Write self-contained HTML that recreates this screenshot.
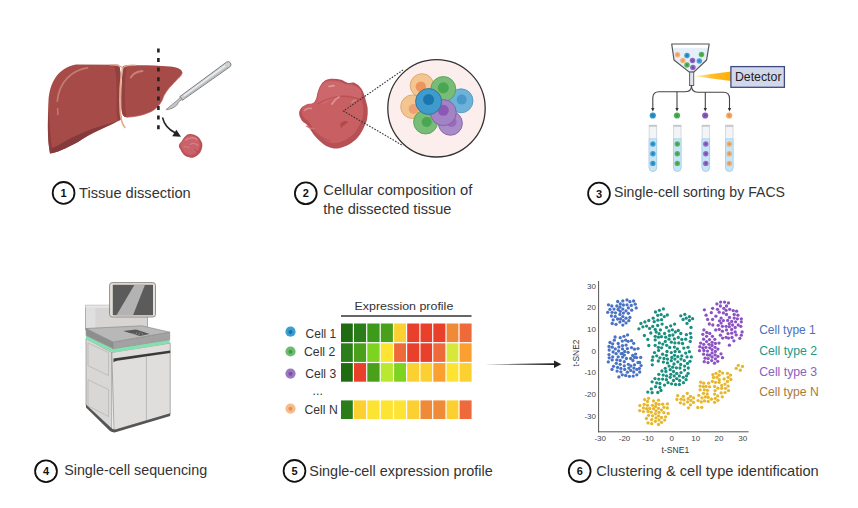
<!DOCTYPE html>
<html><head><meta charset="utf-8">
<style>
html,body{margin:0;padding:0;background:#fff;width:858px;height:508px;overflow:hidden}
svg{display:block;position:absolute;left:0;top:0}
text{font-family:"Liberation Sans",sans-serif}
</style></head><body>
<svg width="858" height="508" viewBox="0 0 858 508">
<defs>
<linearGradient id="beam" x1="0" x2="1" y1="0" y2="0">
<stop offset="0" stop-color="#ffd36a" stop-opacity="0.35"/><stop offset="0.45" stop-color="#ffbf30"/><stop offset="1" stop-color="#ffae00"/>
</linearGradient>
<clipPath id="funnelclip"><path d="M671.7 44 L709.2 44 L706.6 60 L693.8 72.1 L689.3 72.1 L674 60 Z"/></clipPath>
<radialGradient id="tub" cx="0.5" cy="0.5" r="0.5"><stop offset="0" stop-color="#000" stop-opacity="0.15"/><stop offset="1" stop-color="#000" stop-opacity="0"/></radialGradient>
</defs>

<!-- ===== Section 1: liver ===== -->
<g id="liver">
<path d="M50 153.5 C47.5 140 47.5 120 48.5 100 C50 82 58 68 76 64.5 L118 64.8 C121 66 121 80 120.5 95 C120 108 120.5 115 122 119 C110 126 92 132 78 142 C66 148 57 153 50 153.5 Z" fill="#a64b48"/>
<path d="M50 153.5 C57 153 66 148 78 142 C92 132 106 127 118 121 C106 125 92 128 80 134 C66 140 56 147 50 149 Z" fill="#84393a"/>
<path d="M50 153.5 C47.5 140 47.5 125 48.5 112 C50 125 50.5 140 52.5 150 Z" fill="#8e3f3d"/>
<path d="M114 65 C117 75 117 95 116.5 105 C116.5 112 117 117 118 121 L122 119 C120.5 115 120 108 120.5 95 C121 80 121 66 118 64.8 Z" fill="#924140"/>
<path d="M123 66 C130 65 150 64.8 170 66.6 C177 67.5 182 69 182.3 72.5 C182 76 176 80 172.7 84.3 C168 89 164 94 162.2 100.2 C160 105 155 110 150.3 112 C144 115 135 117 126.6 117.3 C123 117 121.8 114 121.5 108 C121.3 95 121.5 80 123 66 Z" fill="#a64b48"/>
<path d="M123 66 C121.5 80 121.3 95 121.5 108 C121.8 114 123 117 126.6 117.3 C125.5 113 125 105 125 95 C125 82 125.5 72 127 65.6 Z" fill="#934241"/>
<path d="M182.3 72.5 C182 76 176 80 172.7 84.3 C168 89 164 94 162.2 100.2 C160 105 155 110 150.3 112 C144 115 135 117 126.6 117.3" fill="none" stroke="#c06a66" stroke-width="0.7"/>
<path d="M122.7 67.5 C120.2 80 119.6 100 120.3 112 C120.8 120 122.8 125 124.8 127.4" fill="none" stroke="#e6ad8e" stroke-width="1.7" stroke-linecap="round"/>
<path d="M110 65 C116 64.5 119 65 122.7 67.8 C126 65 130 64.8 136 65.3" fill="none" stroke="#e0a58a" stroke-width="1.1"/>
<path d="M87.5 67.8 C72 70 59 82 57.3 101" fill="none" stroke="#c47a72" stroke-width="1.8" stroke-linecap="round"/>
<path d="M57.6 108.8 L57.9 114.5" fill="none" stroke="#c47a72" stroke-width="1.5" stroke-linecap="round"/>
<path d="M130.8 77.5 C133 73 137 71.5 142.5 71" fill="none" stroke="#c98278" stroke-width="1.8" stroke-linecap="round"/>
</g>
<line x1="158.4" y1="48.4" x2="158.4" y2="129.3" stroke="#222" stroke-width="2.6" stroke-dasharray="4 5.6"/>
<!-- scalpel -->
<g transform="translate(181,98.5) rotate(-35.8)">
<path d="M0 -2.2 L58 -2.9 A2.9 2.9 0 0 1 58 2.9 L0 2.2 Z" fill="#cfd2d4" stroke="#6e7174" stroke-width="0.8"/>
<path d="M2 1.2 L57 1.7" stroke="#b4b7ba" stroke-width="1"/>
<path d="M4 -0.4 L55 -0.7" stroke="#eef0f1" stroke-width="1.3"/>
<path d="M0.5 -1.2 L-4 -0.8 L-18.8 0.3 Q-13 4 -6.5 2.8 L-4 1.3 L0.5 1.3 Z" fill="#c4c6c8" stroke="#74777a" stroke-width="0.65"/>
</g>
<path d="M162.5 117.5 Q165 128 175.5 133" fill="none" stroke="#222" stroke-width="1.5"/>
<path d="M172.2 136.3 L176.4 129.8 L181 136.8 Z" fill="#222"/>
<!-- small tissue -->
<path d="M189.3 134.1 C191.1 133.8 191.5 134.1 193.3 134.6 C195.0 135.0 195.3 135.3 196.7 136.1 C198.1 136.9 198.1 136.9 199.2 138.0 C200.2 139.2 200.4 139.5 201.1 141.0 C201.9 142.5 202.1 142.7 202.3 144.4 C202.5 146.1 202.3 146.6 201.9 148.3 C201.5 150.1 201.5 150.3 200.6 151.8 C199.8 153.3 199.6 153.5 198.2 154.7 C196.8 156.0 196.3 156.3 194.7 157.0 C193.1 157.7 192.9 157.8 191.3 157.8 C189.7 157.8 189.5 157.6 187.9 157.0 C186.3 156.4 185.8 156.3 184.4 155.2 C183.0 154.1 182.9 153.7 182.0 152.3 C181.0 150.9 181.0 150.7 180.3 149.3 C179.6 148.0 179.2 147.6 179.0 146.4 C178.8 145.1 178.9 145.1 179.5 143.9 C180.1 142.8 180.5 142.7 181.5 141.5 C182.4 140.2 182.4 139.8 183.4 138.5 C184.5 137.2 184.5 136.8 185.9 135.8 C187.3 134.7 187.6 134.4 189.3 134.1 Z" fill="#bd5256"/>
<path d="M189.1 135.4 C190.5 135.2 190.9 135.5 192.4 135.8 C193.8 136.2 194.1 136.4 195.2 137.0 C196.3 137.7 196.3 137.7 197.2 138.7 C198.0 139.6 198.2 139.9 198.8 141.1 C199.4 142.3 199.6 142.5 199.8 143.9 C199.9 145.3 199.8 145.7 199.5 147.1 C199.1 148.5 199.1 148.7 198.4 149.9 C197.7 151.2 197.5 151.4 196.4 152.4 C195.3 153.4 194.9 153.6 193.6 154.2 C192.2 154.8 192.1 154.9 190.7 154.9 C189.4 154.9 189.2 154.7 187.9 154.2 C186.6 153.7 186.2 153.7 185.1 152.8 C184.0 151.9 183.9 151.5 183.1 150.4 C182.3 149.2 182.3 149.1 181.7 147.9 C181.1 146.8 180.8 146.5 180.7 145.5 C180.5 144.5 180.6 144.4 181.1 143.5 C181.5 142.6 181.9 142.5 182.7 141.5 C183.4 140.4 183.4 140.2 184.3 139.1 C185.1 138.0 185.2 137.7 186.3 136.8 C187.4 136.0 187.7 135.7 189.1 135.4 Z" fill="#c9626a"/>
<path d="M186 140 C189 137.5 194 137 197 139.5" fill="none" stroke="#da8890" stroke-width="1.5" stroke-linecap="round"/>
<path d="M190 144.5 C193 142.5 196 143.5 198 145.5" fill="none" stroke="#d57f87" stroke-width="1.2" stroke-linecap="round"/>
<path d="M184 147 C186 146 188 147 189 148" fill="none" stroke="#d57f87" stroke-width="1.1" stroke-linecap="round"/>
<path d="M194 149 C196 151 197 152 199 151" fill="none" stroke="#b04a50" stroke-width="1"/>
<!-- label 1 -->
<circle cx="63.6" cy="192.9" r="10.9" fill="none" stroke="#111" stroke-width="1.8"/>
<text x="63.6" y="196.9" font-size="11" font-weight="bold" text-anchor="middle" fill="#111">1</text>
<text x="79" y="197.6" font-size="15" fill="#333" textLength="111.7" lengthAdjust="spacingAndGlyphs">Tissue dissection</text>

<!-- ===== Section 2 ===== -->
<path d="M332.9 78.8 C335.6 78.8 338.4 79.1 341.2 79.8 C344.0 80.6 345.5 82.3 348.0 82.9 C350.5 83.4 352.5 82.0 354.8 82.9 C357.2 83.8 359.2 85.9 360.9 87.9 C362.6 89.9 363.0 91.6 363.9 93.9 C364.9 96.3 365.2 98.0 365.9 100.8 C366.6 103.5 367.5 105.8 367.7 109.1 C367.9 112.4 367.7 115.8 367.1 118.9 C366.5 122.1 365.4 123.8 364.4 126.2 C363.3 128.7 362.8 130.0 361.4 132.3 C360.0 134.6 358.7 136.7 356.8 138.6 C355.0 140.6 353.8 141.4 351.4 142.9 C349.0 144.4 346.6 145.8 343.8 146.8 C341.0 147.9 338.8 148.6 335.9 148.6 C333.0 148.6 330.6 147.9 328.0 146.8 C325.5 145.8 324.3 144.7 322.0 142.9 C319.7 141.0 317.6 139.2 315.5 136.8 C313.3 134.4 312.0 132.1 310.5 129.8 C308.9 127.6 308.4 126.4 306.8 124.7 C305.2 123.0 303.2 122.4 301.8 120.5 C300.4 118.5 299.4 116.3 299.2 114.1 C299.0 111.9 299.6 110.2 300.8 108.6 C301.9 107.0 303.2 106.1 305.3 105.3 C307.4 104.5 310.0 105.2 312.0 104.1 C313.9 103.0 314.9 101.5 315.9 99.2 C317.0 97.0 316.8 94.7 317.7 92.0 C318.7 89.2 319.4 86.6 321.1 84.4 C322.7 82.2 324.3 80.9 326.5 79.8 C328.7 78.8 330.2 78.8 332.9 78.8 Z" fill="#b65054"/>
<path d="M331.9 80.3 C334.3 80.3 336.9 80.6 339.4 81.3 C341.9 81.9 343.3 83.5 345.5 84.0 C347.8 84.5 349.5 83.2 351.7 84.0 C353.8 84.8 355.6 86.7 357.1 88.5 C358.6 90.3 359.0 91.8 359.8 93.9 C360.7 96.1 361.0 97.6 361.6 100.1 C362.2 102.6 363.1 104.6 363.3 107.6 C363.5 110.6 363.3 113.6 362.7 116.4 C362.2 119.3 361.2 120.8 360.3 123.0 C359.3 125.2 358.8 126.4 357.5 128.4 C356.3 130.5 355.1 132.4 353.4 134.2 C351.8 135.9 350.7 136.6 348.5 138.0 C346.4 139.3 344.3 140.6 341.7 141.5 C339.2 142.5 337.2 143.2 334.6 143.2 C332.0 143.2 329.8 142.5 327.5 141.5 C325.2 140.6 324.1 139.6 322.1 138.0 C320.0 136.3 318.1 134.7 316.2 132.5 C314.3 130.4 313.1 128.3 311.7 126.3 C310.3 124.3 309.9 123.2 308.4 121.6 C307.0 120.1 305.2 119.6 303.9 117.8 C302.7 116.1 301.8 114.0 301.6 112.1 C301.4 110.1 302.0 108.6 303.0 107.2 C304.0 105.7 305.2 104.9 307.1 104.2 C308.9 103.4 311.3 104.1 313.1 103.1 C314.8 102.1 315.7 100.7 316.6 98.7 C317.6 96.7 317.4 94.6 318.3 92.2 C319.1 89.7 319.8 87.4 321.3 85.4 C322.7 83.4 324.2 82.2 326.2 81.3 C328.1 80.3 329.5 80.3 331.9 80.3 Z" fill="#c75f63"/>
<path d="M322.3 85.6 C326.1 80.6 326.4 81.7 332.9 81.4 C339.3 81.0 340.1 82.9 346.5 84.4 C353.0 85.9 353.1 84.4 357.1 87.1 C361.2 89.9 361.7 91.8 361.7 94.7 C361.7 97.6 361.2 97.9 357.1 98.0 C353.1 98.1 352.6 95.1 346.5 95.0 C340.5 94.9 340.5 95.4 334.4 97.7 C328.3 100.1 328.0 103.2 323.8 103.8 C319.5 104.4 318.9 104.8 318.5 100.0 C318.1 95.2 318.4 90.6 322.3 85.6 Z" fill="#cc686c"/>
<path d="M318 104 C324 100 331 97 339 96.5 C348 96 356 97.5 361 100" fill="none" stroke="#ba5156" stroke-width="1.2"/>
<path d="M340.5 124 C342 121 346 120.5 348 122 C346 124 343 125 341 128 Z" fill="#b04a4e"/>
<path d="M314 131 C320 137 326 140 331 141" fill="none" stroke="#bb5458" stroke-width="1.1"/>
<path d="M329 86.5 L334 85.6" stroke="#e49a9c" stroke-width="1.6" stroke-linecap="round"/>
<path d="M332 104 C334 100 337 98 339 97" stroke="#df9294" stroke-width="1.8" stroke-linecap="round" fill="none"/>
<path d="M352 102.5 C353 101 354.5 100 355.5 100" stroke="#d98486" stroke-width="1.6" stroke-linecap="round" fill="none"/>
<path d="M304.5 110.5 C306.5 108.5 309 108 311.5 108.5" stroke="#de8e90" stroke-width="1.6" stroke-linecap="round" fill="none"/>
<path d="M306 126 C309 128 312 129 315 128.5" stroke="#d27478" stroke-width="1.1" fill="none"/>
<path d="M340.5 124 C342 121 346 120.5 348 122 C346 124 343 125 341 128 Z" fill="#b04a4e"/>
<path d="M403 70 L343.5 111 L403 145.7" fill="none" stroke="#333" stroke-width="1.1" stroke-dasharray="1.6 1.4"/>
<circle cx="436.5" cy="108.3" r="48.7" fill="#fdeeee" stroke="#333" stroke-width="1.3"/>
<g stroke-width="0.8">
<circle cx="422" cy="85.5" r="11.8" fill="#f3c591" stroke="#d99c60"/><circle cx="420.8" cy="86.6" r="5.2" fill="#ec955c"/>
<circle cx="412.5" cy="106.7" r="11.8" fill="#f3c591" stroke="#d99c60"/><circle cx="413.7" cy="109" r="5" fill="#efa070"/>
<circle cx="461" cy="100.8" r="12" fill="#6db3d9" stroke="#4d93bb"/><circle cx="461.7" cy="99.6" r="5" fill="#4a98c8"/>
<circle cx="443.3" cy="89" r="12.5" fill="#78bc78" stroke="#4f9a50"/><circle cx="443.3" cy="87.8" r="5.5" fill="#4aa650"/>
<circle cx="425.6" cy="122" r="12" fill="#78bc78" stroke="#4f9a50"/><circle cx="426.7" cy="122" r="5" fill="#4aa650"/>
<circle cx="450.4" cy="123.3" r="12" fill="#a98bc8" stroke="#7b5aa3"/><circle cx="451.6" cy="122" r="5" fill="#9c68bc"/>
<circle cx="443.3" cy="112.6" r="13" fill="#a283c4" stroke="#7b5aa3"/><circle cx="443.3" cy="110.3" r="5.5" fill="#8d58b5"/>
<circle cx="428.6" cy="101.5" r="13" fill="#3f9bcb" stroke="#2a6a94"/><circle cx="428.6" cy="99.6" r="5.5" fill="#1b76ad"/>
</g>
<circle cx="305.8" cy="193.3" r="10.9" fill="none" stroke="#111" stroke-width="1.8"/>
<text x="305.8" y="197.3" font-size="11" font-weight="bold" text-anchor="middle" fill="#111">2</text>
<text x="323.3" y="195" font-size="15" fill="#333" textLength="149" lengthAdjust="spacingAndGlyphs">Cellular composition of</text>
<text x="323.3" y="213.8" font-size="15" fill="#333" textLength="128.2" lengthAdjust="spacingAndGlyphs">the dissected tissue</text>

<!-- ===== Section 3: FACS ===== -->
<g clip-path="url(#funnelclip)"><rect x="670" y="47.8" width="45" height="30" fill="#e6eef9"/></g>
<path d="M671.7 44 L709.2 44 L706.6 60 L693.8 72.1 L689.3 72.1 L674 60 Z" fill="none" stroke="#555" stroke-width="1.2" stroke-linejoin="round"/>
<g>
<circle cx="677.5" cy="54.8" r="2.75" fill="#f5b47c"/><circle cx="677.5" cy="54.8" r="1.2" fill="#ee9656"/><circle cx="687" cy="55.5" r="2.75" fill="#3a9dd2"/><circle cx="687" cy="55.5" r="1.2" fill="#1f7fb8"/><circle cx="701.5" cy="54.5" r="2.75" fill="#58b35c"/><circle cx="701.5" cy="54.5" r="1.2" fill="#3d9b44"/><circle cx="682.9" cy="60.6" r="2.75" fill="#f5b47c"/><circle cx="682.9" cy="60.6" r="1.2" fill="#ee9656"/><circle cx="692.5" cy="60.6" r="2.75" fill="#9165c2"/><circle cx="692.5" cy="60.6" r="1.2" fill="#7646ab"/><circle cx="699.3" cy="60.9" r="2.75" fill="#46a5d6"/><circle cx="699.3" cy="60.9" r="1.2" fill="#2a8cc4"/><circle cx="687" cy="65" r="2.75" fill="#58b35c"/><circle cx="687" cy="65" r="1.2" fill="#3d9b44"/><circle cx="692.9" cy="67.4" r="2.75" fill="#9165c2"/><circle cx="692.9" cy="67.4" r="1.2" fill="#7646ab"/></g>
<rect x="689.6" y="72.1" width="4.1" height="13.4" fill="#dfe4ea" stroke="#5f6368" stroke-width="1"/>
<path d="M694 76.2 L731 71.6 L731 80.9 Z" fill="url(#beam)"/>
<rect x="730.9" y="66.6" width="53.5" height="20.7" fill="#d1d8ec" stroke="#3e4b7b" stroke-width="1.3"/>
<text x="734.9" y="81.1" font-size="12.2" fill="#222" textLength="46.6" lengthAdjust="spacingAndGlyphs">Detector</text>
<g fill="none" stroke="#444" stroke-width="1.1">
<path d="M691.5 85.5 Q691.5 91.7 685.5 91.7 L659 91.7 Q652.8 91.7 652.8 98 L652.8 108.5"/>
<path d="M691.5 85.5 Q691.5 92.2 697.5 92.2 L723.5 92.2 Q729.5 92.2 729.5 98.5 L729.5 108.5"/>
<path d="M677 91.7 L677 108.5"/><path d="M705.3 92.2 L705.3 108.5"/>
</g>
<g fill="#333">
<path d="M651.1 108 L654.5 108 L652.8 111.5 Z"/><path d="M675.3 108 L678.7 108 L677 111.5 Z"/>
<path d="M703.6 108 L707 108 L705.3 111.5 Z"/><path d="M727.8 108 L731.2 108 L729.5 111.5 Z"/>
</g>
<circle cx="652.8" cy="115.5" r="3.1" fill="#2f95cf"/><circle cx="652.8" cy="115.5" r="1.3" fill="#1f7fb8"/><circle cx="677" cy="115.5" r="3.1" fill="#4caf50"/><circle cx="677" cy="115.5" r="1.3" fill="#3b9a40"/>
<circle cx="705.2" cy="115.5" r="3.1" fill="#8b5cc0"/><circle cx="705.2" cy="115.5" r="1.3" fill="#7446aa"/><circle cx="729.2" cy="115.5" r="3.1" fill="#f5a862"/><circle cx="729.2" cy="115.5" r="1.3" fill="#e88a44"/>
<g id="tubes">
<path d="M649.15 125.5 L656.65 125.5 L656.65 167.7 A3.75 3.75 0 0 1 649.15 167.7 Z" fill="#f2f4f5" stroke="#cdd1d5" stroke-width="0.8"/><path d="M649.15 138.8 L656.65 138.8 L656.65 167.7 A3.75 3.75 0 0 1 649.15 167.7 Z" fill="#c8e5f6" stroke="#a3d0ea" stroke-width="0.8"/><rect x="648.95" y="124.8" width="7.90" height="2" fill="#c4c8cc"/><circle cx="652.9" cy="144" r="2.7" fill="#2f95cf" fill-opacity="0.9"/><circle cx="652.9" cy="144" r="1.1" fill="#1f7fb8"/><circle cx="652.9" cy="153.7" r="2.7" fill="#2f95cf" fill-opacity="0.9"/><circle cx="652.9" cy="153.7" r="1.1" fill="#1f7fb8"/><circle cx="652.9" cy="163.4" r="2.7" fill="#2f95cf" fill-opacity="0.9"/><circle cx="652.9" cy="163.4" r="1.1" fill="#1f7fb8"/><path d="M673.55 125.5 L681.05 125.5 L681.05 167.7 A3.75 3.75 0 0 1 673.55 167.7 Z" fill="#f2f4f5" stroke="#cdd1d5" stroke-width="0.8"/><path d="M673.55 138.8 L681.05 138.8 L681.05 167.7 A3.75 3.75 0 0 1 673.55 167.7 Z" fill="#c8e5f6" stroke="#a3d0ea" stroke-width="0.8"/><rect x="673.35" y="124.8" width="7.90" height="2" fill="#c4c8cc"/><circle cx="677.3" cy="144" r="2.7" fill="#4caf50" fill-opacity="0.9"/><circle cx="677.3" cy="144" r="1.1" fill="#3b9a40"/><circle cx="677.3" cy="153.7" r="2.7" fill="#4caf50" fill-opacity="0.9"/><circle cx="677.3" cy="153.7" r="1.1" fill="#3b9a40"/><circle cx="677.3" cy="163.4" r="2.7" fill="#4caf50" fill-opacity="0.9"/><circle cx="677.3" cy="163.4" r="1.1" fill="#3b9a40"/><path d="M702.05 125.5 L709.55 125.5 L709.55 167.7 A3.75 3.75 0 0 1 702.05 167.7 Z" fill="#f2f4f5" stroke="#cdd1d5" stroke-width="0.8"/><path d="M702.05 138.8 L709.55 138.8 L709.55 167.7 A3.75 3.75 0 0 1 702.05 167.7 Z" fill="#c8e5f6" stroke="#a3d0ea" stroke-width="0.8"/><rect x="701.85" y="124.8" width="7.90" height="2" fill="#c4c8cc"/><circle cx="705.8" cy="144" r="2.7" fill="#8b5cc0" fill-opacity="0.9"/><circle cx="705.8" cy="144" r="1.1" fill="#7446aa"/><circle cx="705.8" cy="153.7" r="2.7" fill="#8b5cc0" fill-opacity="0.9"/><circle cx="705.8" cy="153.7" r="1.1" fill="#7446aa"/><circle cx="705.8" cy="163.4" r="2.7" fill="#8b5cc0" fill-opacity="0.9"/><circle cx="705.8" cy="163.4" r="1.1" fill="#7446aa"/><path d="M725.55 125.5 L733.05 125.5 L733.05 167.7 A3.75 3.75 0 0 1 725.55 167.7 Z" fill="#f2f4f5" stroke="#cdd1d5" stroke-width="0.8"/><path d="M725.55 138.8 L733.05 138.8 L733.05 167.7 A3.75 3.75 0 0 1 725.55 167.7 Z" fill="#c8e5f6" stroke="#a3d0ea" stroke-width="0.8"/><rect x="725.35" y="124.8" width="7.90" height="2" fill="#c4c8cc"/><circle cx="729.3" cy="144" r="2.7" fill="#f5a862" fill-opacity="0.9"/><circle cx="729.3" cy="144" r="1.1" fill="#e88a44"/><circle cx="729.3" cy="153.7" r="2.7" fill="#f5a862" fill-opacity="0.9"/><circle cx="729.3" cy="153.7" r="1.1" fill="#e88a44"/><circle cx="729.3" cy="163.4" r="2.7" fill="#f5a862" fill-opacity="0.9"/><circle cx="729.3" cy="163.4" r="1.1" fill="#e88a44"/>
</g>
<circle cx="599" cy="193.5" r="10.9" fill="none" stroke="#111" stroke-width="1.8"/>
<text x="599" y="197.5" font-size="11" font-weight="bold" text-anchor="middle" fill="#111">3</text>
<text x="614" y="197.4" font-size="15" fill="#333" textLength="171" lengthAdjust="spacingAndGlyphs">Single-cell sorting by FACS</text>

<!-- ===== Section 4: sequencer ===== -->
<g stroke="#8c8c8c" stroke-width="0.7" stroke-linejoin="round">
<path d="M85.5 305.3 L109.6 305.3 L109.6 314 L147.5 314 L147.5 330 L85.5 330 Z" fill="#d6d5d4"/>
<path d="M85.5 305.3 L109.6 305.3 L109.6 307.8 L85.5 307.8 Z" fill="#e6e6e6" stroke="none"/>
<rect x="85.9" y="307.8" width="9.5" height="21" fill="#dfdfdf" stroke="none"/>
<rect x="109.6" y="282.6" width="45.9" height="34.4" rx="2.6" fill="#e3dfd9" stroke="#8a857f" stroke-width="0.9"/>
<rect x="112.8" y="284.8" width="40.2" height="30.4" fill="#5b5b5b" stroke="none"/>
<path d="M116.5 315.2 L133 315.2 L145 284.8 L134.5 284.8 Z" fill="#b3b3b3" stroke="none"/>
<!-- body -->
<path d="M86 338.5 L111.8 352.4 L111.8 429 L86 405.5 Z" fill="#d9d7d5"/>
<path d="M111.8 352.4 L170.2 343.1 L170.2 414 L114 430.2 Z" fill="#e0dedc"/>
<path d="M113.5 358.6 L170.2 350.5 L170.2 352.9 Q141 357 117 360.8 Q114 361.2 113.5 362.5 Z" fill="#3a3a3a" stroke="none"/>
<path d="M146.4 356 L146.4 421" fill="none" stroke="#a8a8a8"/>
<path d="M88 343 L108.5 352.7 L108.5 375.5 L88 365.7 Z" fill="none" stroke="#b5b3b1"/>
<path d="M88 379.8 L108.5 389.5 L108.5 416.6 L88 405.8 Z" fill="none" stroke="#b5b3b1"/>
<path d="M86 404.6 L111 427.8 Q113 429.8 115.5 429.4 L170.2 413.2 L170.2 415.9 L115.5 432.3 Q111.5 432.8 109.4 430.6 L86 407.4 Z" fill="#555" stroke="none"/>
<!-- green band -->
<path d="M86 335.5 L113.2 348.6 L169.7 339.6 L169.7 343.2 L113.2 352.4 L86 339.2 Z" fill="#86dfb0" stroke="none"/>
<!-- slab -->
<path d="M86.1 328.5 L113.2 342 L113.2 348.6 L86.1 335.5 Z" fill="#8e8e8e"/>
<path d="M113.2 342 L169.7 332.2 L169.7 339.6 L113.2 348.6 Z" fill="#a2a2a2"/>
<path d="M86.1 328.5 L142 325.8 L169.7 332.2 L113.2 342 Z" fill="#b8b8b8"/>
<path d="M123.2 331.1 L136 329.4 L149.7 334.1 L139.7 335.9 Z" fill="#575757" stroke="none"/>
<g fill="#9a9a9a" stroke="none"><circle cx="133" cy="333.6" r="0.6"/><circle cx="136.5" cy="333.2" r="0.6"/><circle cx="140" cy="332.8" r="0.6"/><circle cx="135.5" cy="334.6" r="0.6"/><circle cx="139" cy="334.3" r="0.6"/><circle cx="142.5" cy="333.9" r="0.6"/></g>
</g>
<circle cx="46" cy="471.2" r="10.9" fill="none" stroke="#111" stroke-width="1.8"/>
<text x="46" y="475.2" font-size="11" font-weight="bold" text-anchor="middle" fill="#111">4</text>
<text x="64.2" y="475.2" font-size="15" fill="#333" textLength="143" lengthAdjust="spacingAndGlyphs">Single-cell sequencing</text>

<!-- ===== Section 5: heatmap ===== -->
<text x="354.5" y="309.6" font-size="11.7" fill="#333" textLength="98.8" lengthAdjust="spacingAndGlyphs">Expression profile</text>
<line x1="341" y1="316" x2="471.5" y2="316" stroke="#333" stroke-width="1.4"/>
<rect x="341.0" y="323.5" width="11.8" height="18.6" fill="#1e6b12"/><rect x="354.0" y="323.5" width="12.1" height="18.6" fill="#2a7d18"/><rect x="367.3" y="323.5" width="12.3" height="18.6" fill="#3d9a1a"/><rect x="380.8" y="323.5" width="12.1" height="18.6" fill="#4aa01a"/><rect x="394.1" y="323.5" width="11.9" height="18.6" fill="#fcd030"/><rect x="407.2" y="323.5" width="12.1" height="18.6" fill="#e8402a"/><rect x="420.5" y="323.5" width="11.6" height="18.6" fill="#e8402a"/><rect x="433.3" y="323.5" width="12.1" height="18.6" fill="#e8402a"/><rect x="446.6" y="323.5" width="11.8" height="18.6" fill="#ee8a38"/><rect x="459.6" y="323.5" width="12.0" height="18.6" fill="#ee6a3a"/><rect x="341.0" y="343.3" width="11.8" height="18.6" fill="#2a7d18"/><rect x="354.0" y="343.3" width="12.1" height="18.6" fill="#4aa01a"/><rect x="367.3" y="343.3" width="12.3" height="18.6" fill="#7ed320"/><rect x="380.8" y="343.3" width="12.1" height="18.6" fill="#fde432"/><rect x="394.1" y="343.3" width="11.9" height="18.6" fill="#ee6a3a"/><rect x="407.2" y="343.3" width="12.1" height="18.6" fill="#e8402a"/><rect x="420.5" y="343.3" width="11.6" height="18.6" fill="#e8402a"/><rect x="433.3" y="343.3" width="12.1" height="18.6" fill="#ee6a3a"/><rect x="446.6" y="343.3" width="11.8" height="18.6" fill="#d8e83a"/><rect x="459.6" y="343.3" width="12.0" height="18.6" fill="#fba030"/><rect x="341.0" y="363.1" width="11.8" height="18.6" fill="#1e6b12"/><rect x="354.0" y="363.1" width="12.1" height="18.6" fill="#e8402a"/><rect x="367.3" y="363.1" width="12.3" height="18.6" fill="#4aa01a"/><rect x="380.8" y="363.1" width="12.1" height="18.6" fill="#b8e830"/><rect x="394.1" y="363.1" width="11.9" height="18.6" fill="#7ed320"/><rect x="407.2" y="363.1" width="12.1" height="18.6" fill="#fcd030"/><rect x="420.5" y="363.1" width="11.6" height="18.6" fill="#fcd030"/><rect x="433.3" y="363.1" width="12.1" height="18.6" fill="#fba030"/><rect x="446.6" y="363.1" width="11.8" height="18.6" fill="#fde432"/><rect x="459.6" y="363.1" width="12.0" height="18.6" fill="#fcd030"/><rect x="341.0" y="400.4" width="11.8" height="18.6" fill="#2a7d18"/><rect x="354.0" y="400.4" width="12.1" height="18.6" fill="#fcd030"/><rect x="367.3" y="400.4" width="12.3" height="18.6" fill="#fde432"/><rect x="380.8" y="400.4" width="12.1" height="18.6" fill="#fde432"/><rect x="394.1" y="400.4" width="11.9" height="18.6" fill="#fde432"/><rect x="407.2" y="400.4" width="12.1" height="18.6" fill="#fcd030"/><rect x="420.5" y="400.4" width="11.6" height="18.6" fill="#ee8a38"/><rect x="433.3" y="400.4" width="12.1" height="18.6" fill="#ee8a38"/><rect x="446.6" y="400.4" width="11.8" height="18.6" fill="#fcd030"/><rect x="459.6" y="400.4" width="12.0" height="18.6" fill="#ee6a3a"/>
<circle cx="290.5" cy="331.7" r="5.1" fill="#3a9fd0"/><circle cx="290.5" cy="331.9" r="2" fill="#1d6fa8"/>
<circle cx="290.5" cy="351.5" r="5.1" fill="#6dbb6d"/><circle cx="290.5" cy="351.7" r="2" fill="#3f9a48"/>
<circle cx="290.5" cy="373.6" r="5.1" fill="#9b78c0"/><circle cx="290.5" cy="373.8" r="2" fill="#7d4bb0"/>
<circle cx="290.5" cy="408.6" r="5.1" fill="#f3bd8e"/><circle cx="290.5" cy="408.8" r="2" fill="#ec8c52"/>
<g font-size="12.3" fill="#333">
<text x="305.6" y="338.2" textLength="30.7" lengthAdjust="spacingAndGlyphs">Cell 1</text>
<text x="304" y="356.1" textLength="31.3" lengthAdjust="spacingAndGlyphs">Cell 2</text>
<text x="305.2" y="377.8" textLength="31" lengthAdjust="spacingAndGlyphs">Cell 3</text>
<text x="312.6" y="395">...</text>
<text x="304.5" y="414.4" textLength="33.2" lengthAdjust="spacingAndGlyphs">Cell N</text>
</g>
<circle cx="294.5" cy="470.9" r="10.9" fill="none" stroke="#111" stroke-width="1.8"/>
<text x="294.5" y="474.9" font-size="11" font-weight="bold" text-anchor="middle" fill="#111">5</text>
<text x="309.3" y="476" font-size="15" fill="#333" textLength="183.4" lengthAdjust="spacingAndGlyphs">Single-cell expression profile</text>

<!-- arrow 5->6 -->
<path d="M484.7 364.3 L554.5 363.3 L554.5 365.1 Z" fill="#222"/>
<path d="M554 360.5 L561.3 364.2 L554 367.9 Z" fill="#222"/>

<!-- ===== Section 6: t-SNE ===== -->
<g stroke="#555" stroke-width="1"><line x1="598.6" y1="281" x2="598.6" y2="432.3"/><line x1="598.1" y1="431.8" x2="748.6" y2="431.8"/></g>
<g font-size="8" fill="#444" text-anchor="end">
<text x="596" y="288.7">30</text><text x="596" y="310.4">20</text><text x="596" y="332">10</text><text x="596" y="353.7">0</text>
<text x="596" y="375.4">-10</text><text x="596" y="397.1">-20</text><text x="596" y="418.9">-30</text>
</g>
<g font-size="8" fill="#444" text-anchor="middle">
<text x="600.2" y="440.9">-30</text><text x="624.5" y="440.9">-20</text><text x="648" y="440.9">-10</text><text x="671.8" y="440.9">0</text>
<text x="695.7" y="440.9">10</text><text x="719" y="440.9">20</text><text x="742.7" y="440.9">30</text>
</g>
<text x="661.6" y="453.4" font-size="9.3" fill="#333" textLength="27.6" lengthAdjust="spacingAndGlyphs">t-SNE1</text>
<text transform="translate(579.2,366.5) rotate(-90)" x="0" y="0" font-size="9.3" fill="#333" textLength="26.8" lengthAdjust="spacingAndGlyphs">t-SNE2</text>
<g fill="#4a72c4"><circle cx="617.7" cy="301.5" r="1.65"/><circle cx="622.8" cy="300.9" r="1.65"/><circle cx="627.0" cy="299.9" r="1.65"/><circle cx="629.9" cy="301.7" r="1.65"/><circle cx="633.6" cy="301.0" r="1.65"/><circle cx="608.5" cy="304.8" r="1.65"/><circle cx="611.8" cy="306.0" r="1.65"/><circle cx="616.8" cy="306.0" r="1.65"/><circle cx="620.3" cy="304.0" r="1.65"/><circle cx="623.4" cy="305.0" r="1.65"/><circle cx="627.0" cy="304.8" r="1.65"/><circle cx="631.3" cy="305.4" r="1.65"/><circle cx="635.2" cy="304.2" r="1.65"/><circle cx="609.9" cy="309.4" r="1.65"/><circle cx="614.0" cy="309.1" r="1.65"/><circle cx="618.1" cy="309.5" r="1.65"/><circle cx="619.9" cy="307.2" r="1.65"/><circle cx="622.8" cy="309.1" r="1.65"/><circle cx="628.4" cy="307.9" r="1.65"/><circle cx="631.7" cy="310.2" r="1.65"/><circle cx="636.2" cy="307.9" r="1.65"/><circle cx="607.7" cy="312.3" r="1.65"/><circle cx="612.1" cy="312.3" r="1.65"/><circle cx="615.5" cy="312.8" r="1.65"/><circle cx="620.3" cy="311.3" r="1.65"/><circle cx="623.4" cy="313.1" r="1.65"/><circle cx="626.0" cy="310.9" r="1.65"/><circle cx="628.4" cy="313.3" r="1.65"/><circle cx="611.4" cy="316.0" r="1.65"/><circle cx="615.2" cy="316.4" r="1.65"/><circle cx="619.9" cy="314.4" r="1.65"/><circle cx="622.8" cy="316.6" r="1.65"/><circle cx="626.0" cy="318.2" r="1.65"/><circle cx="629.9" cy="317.4" r="1.65"/><circle cx="613.2" cy="319.9" r="1.65"/><circle cx="617.6" cy="319.0" r="1.65"/><circle cx="620.5" cy="319.0" r="1.65"/><circle cx="623.4" cy="320.7" r="1.65"/><circle cx="628.8" cy="320.7" r="1.65"/><circle cx="612.2" cy="323.5" r="1.65"/><circle cx="616.0" cy="324.3" r="1.65"/><circle cx="619.9" cy="322.1" r="1.65"/><circle cx="622.8" cy="325.1" r="1.65"/><circle cx="626.0" cy="322.9" r="1.65"/><circle cx="615.1" cy="337.0" r="1.65"/><circle cx="620.2" cy="337.7" r="1.65"/><circle cx="624.0" cy="336.3" r="1.65"/><circle cx="627.6" cy="334.9" r="1.65"/><circle cx="614.3" cy="340.2" r="1.65"/><circle cx="622.3" cy="341.1" r="1.65"/><circle cx="625.7" cy="340.2" r="1.65"/><circle cx="628.1" cy="341.3" r="1.65"/><circle cx="631.5" cy="340.7" r="1.65"/><circle cx="633.7" cy="343.3" r="1.65"/><circle cx="610.0" cy="342.5" r="1.65"/><circle cx="612.7" cy="343.8" r="1.65"/><circle cx="618.2" cy="343.5" r="1.65"/><circle cx="622.5" cy="345.6" r="1.65"/><circle cx="626.1" cy="345.1" r="1.65"/><circle cx="609.0" cy="346.4" r="1.65"/><circle cx="612.2" cy="347.2" r="1.65"/><circle cx="615.3" cy="348.9" r="1.65"/><circle cx="618.9" cy="346.9" r="1.65"/><circle cx="622.5" cy="348.9" r="1.65"/><circle cx="627.4" cy="348.6" r="1.65"/><circle cx="631.5" cy="347.6" r="1.65"/><circle cx="634.5" cy="349.2" r="1.65"/><circle cx="638.0" cy="348.6" r="1.65"/><circle cx="609.2" cy="350.0" r="1.65"/><circle cx="613.1" cy="352.0" r="1.65"/><circle cx="618.6" cy="351.0" r="1.65"/><circle cx="624.7" cy="351.5" r="1.65"/><circle cx="628.1" cy="352.3" r="1.65"/><circle cx="622.3" cy="353.5" r="1.65"/><circle cx="609.0" cy="354.6" r="1.65"/><circle cx="616.1" cy="353.7" r="1.65"/><circle cx="621.2" cy="353.7" r="1.65"/><circle cx="624.3" cy="355.1" r="1.65"/><circle cx="632.7" cy="355.4" r="1.65"/><circle cx="635.6" cy="354.1" r="1.65"/><circle cx="609.2" cy="357.8" r="1.65"/><circle cx="612.7" cy="356.8" r="1.65"/><circle cx="618.2" cy="356.8" r="1.65"/><circle cx="622.5" cy="357.1" r="1.65"/><circle cx="626.4" cy="358.5" r="1.65"/><circle cx="630.7" cy="358.5" r="1.65"/><circle cx="634.5" cy="357.4" r="1.65"/><circle cx="636.6" cy="357.6" r="1.65"/><circle cx="640.7" cy="357.4" r="1.65"/><circle cx="608.3" cy="361.9" r="1.65"/><circle cx="612.2" cy="359.9" r="1.65"/><circle cx="616.8" cy="359.9" r="1.65"/><circle cx="620.2" cy="360.5" r="1.65"/><circle cx="624.3" cy="361.7" r="1.65"/><circle cx="632.9" cy="360.5" r="1.65"/><circle cx="638.0" cy="362.5" r="1.65"/><circle cx="639.7" cy="362.5" r="1.65"/><circle cx="613.5" cy="366.3" r="1.65"/><circle cx="616.3" cy="363.3" r="1.65"/><circle cx="620.2" cy="364.3" r="1.65"/><circle cx="624.3" cy="365.8" r="1.65"/><circle cx="628.4" cy="364.3" r="1.65"/><circle cx="630.9" cy="366.0" r="1.65"/><circle cx="634.5" cy="364.8" r="1.65"/><circle cx="641.1" cy="365.6" r="1.65"/><circle cx="612.0" cy="369.4" r="1.65"/><circle cx="617.6" cy="367.4" r="1.65"/><circle cx="620.9" cy="368.4" r="1.65"/><circle cx="624.7" cy="369.4" r="1.65"/><circle cx="628.8" cy="368.1" r="1.65"/><circle cx="633.9" cy="368.1" r="1.65"/><circle cx="636.8" cy="369.4" r="1.65"/><circle cx="639.4" cy="368.4" r="1.65"/><circle cx="617.1" cy="371.1" r="1.65"/><circle cx="620.9" cy="371.8" r="1.65"/><circle cx="627.4" cy="372.2" r="1.65"/><circle cx="630.7" cy="370.4" r="1.65"/><circle cx="633.7" cy="372.0" r="1.65"/><circle cx="639.7" cy="372.0" r="1.65"/><circle cx="618.9" cy="376.9" r="1.65"/><circle cx="622.3" cy="374.8" r="1.65"/><circle cx="625.7" cy="375.5" r="1.65"/><circle cx="629.4" cy="376.3" r="1.65"/><circle cx="633.2" cy="376.1" r="1.65"/><circle cx="636.8" cy="374.8" r="1.65"/></g>
<g fill="#1a8f80"><circle cx="663.4" cy="308.9" r="1.65"/><circle cx="659.4" cy="310.3" r="1.65"/><circle cx="655.5" cy="312.0" r="1.65"/><circle cx="657.7" cy="315.3" r="1.65"/><circle cx="661.1" cy="314.6" r="1.65"/><circle cx="664.3" cy="316.6" r="1.65"/><circle cx="667.3" cy="315.0" r="1.65"/><circle cx="653.2" cy="318.2" r="1.65"/><circle cx="657.9" cy="320.2" r="1.65"/><circle cx="661.6" cy="319.7" r="1.65"/><circle cx="654.2" cy="321.7" r="1.65"/><circle cx="648.8" cy="320.5" r="1.65"/><circle cx="644.9" cy="321.9" r="1.65"/><circle cx="640.9" cy="323.4" r="1.65"/><circle cx="657.7" cy="325.4" r="1.65"/><circle cx="662.1" cy="324.1" r="1.65"/><circle cx="642.9" cy="326.8" r="1.65"/><circle cx="646.6" cy="326.1" r="1.65"/><circle cx="649.6" cy="328.4" r="1.65"/><circle cx="652.7" cy="326.4" r="1.65"/><circle cx="638.9" cy="328.8" r="1.65"/><circle cx="655.2" cy="329.4" r="1.65"/><circle cx="660.4" cy="329.9" r="1.65"/><circle cx="666.5" cy="327.4" r="1.65"/><circle cx="670.7" cy="325.8" r="1.65"/><circle cx="674.6" cy="324.1" r="1.65"/><circle cx="680.8" cy="315.8" r="1.65"/><circle cx="684.8" cy="314.3" r="1.65"/><circle cx="689.4" cy="316.7" r="1.65"/><circle cx="692.6" cy="318.7" r="1.65"/><circle cx="686.2" cy="318.2" r="1.65"/><circle cx="683.1" cy="319.5" r="1.65"/><circle cx="689.4" cy="320.5" r="1.65"/><circle cx="687.0" cy="323.4" r="1.65"/><circle cx="691.0" cy="327.4" r="1.65"/><circle cx="669.0" cy="331.0" r="1.65"/><circle cx="672.4" cy="329.8" r="1.65"/><circle cx="675.4" cy="332.0" r="1.65"/><circle cx="678.3" cy="330.5" r="1.65"/><circle cx="680.8" cy="333.5" r="1.65"/><circle cx="650.8" cy="333.0" r="1.65"/><circle cx="656.2" cy="332.0" r="1.65"/><circle cx="659.1" cy="333.7" r="1.65"/><circle cx="664.6" cy="333.5" r="1.65"/><circle cx="644.4" cy="335.5" r="1.65"/><circle cx="655.2" cy="336.3" r="1.65"/><circle cx="658.4" cy="337.2" r="1.65"/><circle cx="661.4" cy="336.7" r="1.65"/><circle cx="665.7" cy="337.2" r="1.65"/><circle cx="669.5" cy="335.5" r="1.65"/><circle cx="672.9" cy="335.0" r="1.65"/><circle cx="686.4" cy="334.7" r="1.65"/><circle cx="690.4" cy="333.3" r="1.65"/><circle cx="647.8" cy="339.4" r="1.65"/><circle cx="655.2" cy="339.9" r="1.65"/><circle cx="669.0" cy="339.2" r="1.65"/><circle cx="674.4" cy="338.9" r="1.65"/><circle cx="678.3" cy="337.4" r="1.65"/><circle cx="681.8" cy="339.4" r="1.65"/><circle cx="685.7" cy="339.2" r="1.65"/><circle cx="691.0" cy="337.4" r="1.65"/><circle cx="659.4" cy="342.9" r="1.65"/><circle cx="662.8" cy="344.1" r="1.65"/><circle cx="665.3" cy="341.4" r="1.65"/><circle cx="666.7" cy="345.3" r="1.65"/><circle cx="671.3" cy="342.2" r="1.65"/><circle cx="674.9" cy="342.9" r="1.65"/><circle cx="678.8" cy="342.9" r="1.65"/><circle cx="682.5" cy="343.5" r="1.65"/><circle cx="690.2" cy="341.4" r="1.65"/><circle cx="648.8" cy="345.5" r="1.65"/><circle cx="655.2" cy="345.3" r="1.65"/><circle cx="658.4" cy="347.3" r="1.65"/><circle cx="661.6" cy="347.8" r="1.65"/><circle cx="669.7" cy="347.5" r="1.65"/><circle cx="674.4" cy="347.1" r="1.65"/><circle cx="677.4" cy="348.8" r="1.65"/><circle cx="683.8" cy="348.1" r="1.65"/><circle cx="688.0" cy="347.3" r="1.65"/><circle cx="654.5" cy="352.6" r="1.65"/><circle cx="658.6" cy="350.4" r="1.65"/><circle cx="662.6" cy="354.2" r="1.65"/><circle cx="666.4" cy="355.3" r="1.65"/><circle cx="667.0" cy="351.5" r="1.65"/><circle cx="671.3" cy="352.6" r="1.65"/><circle cx="675.1" cy="351.5" r="1.65"/><circle cx="679.4" cy="351.7" r="1.65"/><circle cx="685.7" cy="353.1" r="1.65"/><circle cx="689.4" cy="351.7" r="1.65"/><circle cx="652.9" cy="356.9" r="1.65"/><circle cx="656.7" cy="355.8" r="1.65"/><circle cx="659.9" cy="357.8" r="1.65"/><circle cx="664.0" cy="358.5" r="1.65"/><circle cx="667.5" cy="359.1" r="1.65"/><circle cx="671.8" cy="357.5" r="1.65"/><circle cx="674.5" cy="355.3" r="1.65"/><circle cx="677.8" cy="356.7" r="1.65"/><circle cx="681.8" cy="355.8" r="1.65"/><circle cx="687.0" cy="356.9" r="1.65"/><circle cx="691.3" cy="356.9" r="1.65"/><circle cx="652.3" cy="360.2" r="1.65"/><circle cx="658.3" cy="361.0" r="1.65"/><circle cx="663.4" cy="362.1" r="1.65"/><circle cx="667.5" cy="362.9" r="1.65"/><circle cx="671.3" cy="360.7" r="1.65"/><circle cx="674.9" cy="359.1" r="1.65"/><circle cx="677.8" cy="361.8" r="1.65"/><circle cx="681.0" cy="359.1" r="1.65"/><circle cx="684.3" cy="360.7" r="1.65"/><circle cx="690.0" cy="361.3" r="1.65"/><circle cx="687.5" cy="363.4" r="1.65"/><circle cx="652.3" cy="364.8" r="1.65"/><circle cx="669.1" cy="366.1" r="1.65"/><circle cx="672.7" cy="367.2" r="1.65"/><circle cx="676.4" cy="367.8" r="1.65"/><circle cx="680.7" cy="364.5" r="1.65"/><circle cx="684.6" cy="366.1" r="1.65"/><circle cx="688.3" cy="368.0" r="1.65"/><circle cx="674.0" cy="364.0" r="1.65"/><circle cx="665.3" cy="368.3" r="1.65"/><circle cx="670.2" cy="369.7" r="1.65"/><circle cx="680.0" cy="368.0" r="1.65"/><circle cx="684.6" cy="370.1" r="1.65"/><circle cx="661.9" cy="371.0" r="1.65"/><circle cx="665.9" cy="371.5" r="1.65"/><circle cx="673.5" cy="371.5" r="1.65"/><circle cx="676.7" cy="373.4" r="1.65"/><circle cx="681.0" cy="372.6" r="1.65"/><circle cx="688.1" cy="373.4" r="1.65"/><circle cx="658.8" cy="374.3" r="1.65"/><circle cx="663.2" cy="375.1" r="1.65"/><circle cx="666.6" cy="375.9" r="1.65"/><circle cx="670.8" cy="374.3" r="1.65"/><circle cx="674.2" cy="375.9" r="1.65"/><circle cx="679.4" cy="375.9" r="1.65"/><circle cx="683.2" cy="377.3" r="1.65"/><circle cx="686.5" cy="375.9" r="1.65"/><circle cx="655.0" cy="378.6" r="1.65"/><circle cx="658.8" cy="379.1" r="1.65"/><circle cx="662.6" cy="379.1" r="1.65"/><circle cx="666.4" cy="379.7" r="1.65"/><circle cx="670.2" cy="377.3" r="1.65"/><circle cx="673.5" cy="380.5" r="1.65"/><circle cx="676.7" cy="378.6" r="1.65"/><circle cx="679.6" cy="380.5" r="1.65"/><circle cx="686.1" cy="379.7" r="1.65"/><circle cx="652.1" cy="381.8" r="1.65"/><circle cx="656.7" cy="382.9" r="1.65"/><circle cx="659.9" cy="383.5" r="1.65"/><circle cx="668.0" cy="382.7" r="1.65"/><circle cx="671.6" cy="383.8" r="1.65"/><circle cx="675.6" cy="384.5" r="1.65"/><circle cx="679.4" cy="384.5" r="1.65"/><circle cx="683.5" cy="382.7" r="1.65"/><circle cx="655.6" cy="386.7" r="1.65"/><circle cx="659.9" cy="387.5" r="1.65"/><circle cx="664.5" cy="385.1" r="1.65"/><circle cx="651.3" cy="388.9" r="1.65"/><circle cx="647.8" cy="392.1" r="1.65"/><circle cx="652.1" cy="392.7" r="1.65"/><circle cx="657.8" cy="392.5" r="1.65"/><circle cx="661.0" cy="390.5" r="1.65"/></g>
<g fill="#8b52c4"><circle cx="716.9" cy="303.9" r="1.65"/><circle cx="720.6" cy="302.1" r="1.65"/><circle cx="724.6" cy="302.1" r="1.65"/><circle cx="728.5" cy="302.9" r="1.65"/><circle cx="704.4" cy="309.8" r="1.65"/><circle cx="712.6" cy="308.3" r="1.65"/><circle cx="717.5" cy="309.3" r="1.65"/><circle cx="720.4" cy="306.0" r="1.65"/><circle cx="723.8" cy="308.3" r="1.65"/><circle cx="726.5" cy="306.0" r="1.65"/><circle cx="729.7" cy="309.3" r="1.65"/><circle cx="733.2" cy="310.6" r="1.65"/><circle cx="736.6" cy="311.2" r="1.65"/><circle cx="711.3" cy="312.7" r="1.65"/><circle cx="719.2" cy="312.2" r="1.65"/><circle cx="723.4" cy="312.9" r="1.65"/><circle cx="726.5" cy="314.5" r="1.65"/><circle cx="734.2" cy="314.5" r="1.65"/><circle cx="737.9" cy="315.2" r="1.65"/><circle cx="726.1" cy="310.3" r="1.65"/><circle cx="706.1" cy="315.2" r="1.65"/><circle cx="715.9" cy="316.2" r="1.65"/><circle cx="721.1" cy="318.1" r="1.65"/><circle cx="729.5" cy="317.4" r="1.65"/><circle cx="734.2" cy="318.1" r="1.65"/><circle cx="737.4" cy="318.8" r="1.65"/><circle cx="741.3" cy="318.8" r="1.65"/><circle cx="707.6" cy="319.4" r="1.65"/><circle cx="712.6" cy="319.4" r="1.65"/><circle cx="719.5" cy="320.8" r="1.65"/><circle cx="723.4" cy="320.6" r="1.65"/><circle cx="727.7" cy="320.4" r="1.65"/><circle cx="731.7" cy="321.4" r="1.65"/><circle cx="735.6" cy="321.8" r="1.65"/><circle cx="741.3" cy="321.8" r="1.65"/><circle cx="709.3" cy="324.0" r="1.65"/><circle cx="712.8" cy="325.0" r="1.65"/><circle cx="718.2" cy="325.3" r="1.65"/><circle cx="721.1" cy="323.1" r="1.65"/><circle cx="722.4" cy="326.3" r="1.65"/><circle cx="726.1" cy="326.3" r="1.65"/><circle cx="729.3" cy="323.7" r="1.65"/><circle cx="732.6" cy="325.0" r="1.65"/><circle cx="738.2" cy="325.0" r="1.65"/><circle cx="740.8" cy="326.3" r="1.65"/><circle cx="715.7" cy="329.9" r="1.65"/><circle cx="719.2" cy="329.4" r="1.65"/><circle cx="722.4" cy="331.2" r="1.65"/><circle cx="726.5" cy="329.9" r="1.65"/><circle cx="731.7" cy="329.4" r="1.65"/><circle cx="735.2" cy="327.5" r="1.65"/><circle cx="729.3" cy="326.7" r="1.65"/><circle cx="720.4" cy="335.2" r="1.65"/><circle cx="728.0" cy="333.6" r="1.65"/><circle cx="731.7" cy="333.2" r="1.65"/><circle cx="735.2" cy="331.9" r="1.65"/><circle cx="736.2" cy="334.9" r="1.65"/><circle cx="742.1" cy="331.9" r="1.65"/><circle cx="741.3" cy="335.2" r="1.65"/><circle cx="722.6" cy="338.1" r="1.65"/><circle cx="726.1" cy="337.3" r="1.65"/><circle cx="728.5" cy="338.1" r="1.65"/><circle cx="732.0" cy="337.5" r="1.65"/><circle cx="739.8" cy="338.3" r="1.65"/><circle cx="733.9" cy="340.8" r="1.65"/><circle cx="703.9" cy="329.9" r="1.65"/><circle cx="706.8" cy="332.5" r="1.65"/><circle cx="709.8" cy="333.4" r="1.65"/><circle cx="702.8" cy="334.3" r="1.65"/><circle cx="706.6" cy="336.3" r="1.65"/><circle cx="712.4" cy="336.3" r="1.65"/><circle cx="703.6" cy="339.2" r="1.65"/><circle cx="709.5" cy="339.6" r="1.65"/><circle cx="714.8" cy="339.3" r="1.65"/><circle cx="700.6" cy="343.1" r="1.65"/><circle cx="703.7" cy="344.3" r="1.65"/><circle cx="706.6" cy="341.6" r="1.65"/><circle cx="709.0" cy="344.3" r="1.65"/><circle cx="712.1" cy="342.3" r="1.65"/><circle cx="715.4" cy="343.4" r="1.65"/><circle cx="719.0" cy="343.1" r="1.65"/><circle cx="699.8" cy="346.7" r="1.65"/><circle cx="702.8" cy="347.8" r="1.65"/><circle cx="705.9" cy="347.3" r="1.65"/><circle cx="709.8" cy="347.8" r="1.65"/><circle cx="712.1" cy="345.5" r="1.65"/><circle cx="715.1" cy="347.3" r="1.65"/><circle cx="717.9" cy="349.1" r="1.65"/><circle cx="699.5" cy="350.7" r="1.65"/><circle cx="703.9" cy="350.5" r="1.65"/><circle cx="707.5" cy="351.1" r="1.65"/><circle cx="712.1" cy="349.6" r="1.65"/><circle cx="715.4" cy="351.4" r="1.65"/><circle cx="703.6" cy="354.2" r="1.65"/><circle cx="707.5" cy="354.9" r="1.65"/><circle cx="709.8" cy="355.1" r="1.65"/><circle cx="712.1" cy="352.9" r="1.65"/><circle cx="715.1" cy="354.9" r="1.65"/><circle cx="717.9" cy="356.4" r="1.65"/><circle cx="721.0" cy="353.8" r="1.65"/><circle cx="705.1" cy="358.2" r="1.65"/><circle cx="708.2" cy="358.6" r="1.65"/><circle cx="712.1" cy="357.0" r="1.65"/><circle cx="715.4" cy="358.8" r="1.65"/><circle cx="722.5" cy="357.7" r="1.65"/><circle cx="704.2" cy="361.7" r="1.65"/><circle cx="708.0" cy="362.6" r="1.65"/><circle cx="711.7" cy="360.6" r="1.65"/><circle cx="714.5" cy="363.2" r="1.65"/><circle cx="717.7" cy="361.3" r="1.65"/><circle cx="729.4" cy="345.2" r="1.65"/></g>
<g fill="#e6b72e"><circle cx="648.6" cy="398.3" r="1.65"/><circle cx="644.6" cy="399.6" r="1.65"/><circle cx="647.5" cy="401.4" r="1.65"/><circle cx="653.5" cy="400.9" r="1.65"/><circle cx="658.5" cy="400.2" r="1.65"/><circle cx="639.9" cy="405.6" r="1.65"/><circle cx="644.2" cy="404.3" r="1.65"/><circle cx="647.5" cy="405.3" r="1.65"/><circle cx="652.5" cy="405.3" r="1.65"/><circle cx="656.0" cy="403.5" r="1.65"/><circle cx="659.0" cy="404.3" r="1.65"/><circle cx="662.7" cy="404.2" r="1.65"/><circle cx="667.4" cy="403.8" r="1.65"/><circle cx="643.4" cy="407.9" r="1.65"/><circle cx="646.6" cy="408.7" r="1.65"/><circle cx="649.7" cy="408.5" r="1.65"/><circle cx="653.5" cy="408.7" r="1.65"/><circle cx="655.6" cy="406.5" r="1.65"/><circle cx="658.5" cy="408.3" r="1.65"/><circle cx="663.9" cy="407.3" r="1.65"/><circle cx="667.4" cy="407.9" r="1.65"/><circle cx="639.7" cy="410.6" r="1.65"/><circle cx="643.4" cy="411.6" r="1.65"/><circle cx="648.0" cy="411.4" r="1.65"/><circle cx="651.2" cy="412.2" r="1.65"/><circle cx="656.0" cy="410.8" r="1.65"/><circle cx="659.0" cy="412.4" r="1.65"/><circle cx="661.5" cy="410.1" r="1.65"/><circle cx="663.9" cy="412.7" r="1.65"/><circle cx="668.2" cy="413.4" r="1.65"/><circle cx="648.6" cy="415.3" r="1.65"/><circle cx="652.5" cy="415.8" r="1.65"/><circle cx="655.4" cy="413.8" r="1.65"/><circle cx="658.5" cy="415.8" r="1.65"/><circle cx="661.5" cy="417.5" r="1.65"/><circle cx="665.6" cy="416.8" r="1.65"/><circle cx="646.4" cy="418.5" r="1.65"/><circle cx="651.7" cy="419.7" r="1.65"/><circle cx="656.0" cy="417.9" r="1.65"/><circle cx="659.0" cy="419.9" r="1.65"/><circle cx="664.7" cy="420.1" r="1.65"/><circle cx="648.0" cy="422.9" r="1.65"/><circle cx="651.7" cy="423.7" r="1.65"/><circle cx="655.4" cy="421.3" r="1.65"/><circle cx="658.5" cy="424.5" r="1.65"/><circle cx="661.5" cy="422.3" r="1.65"/><circle cx="700.7" cy="382.2" r="1.65"/><circle cx="703.7" cy="383.2" r="1.65"/><circle cx="708.6" cy="383.2" r="1.65"/><circle cx="700.1" cy="386.1" r="1.65"/><circle cx="703.3" cy="386.6" r="1.65"/><circle cx="706.0" cy="386.4" r="1.65"/><circle cx="709.6" cy="386.8" r="1.65"/><circle cx="700.1" cy="389.8" r="1.65"/><circle cx="704.3" cy="389.8" r="1.65"/><circle cx="707.4" cy="390.3" r="1.65"/><circle cx="687.3" cy="393.3" r="1.65"/><circle cx="703.5" cy="393.3" r="1.65"/><circle cx="707.2" cy="394.0" r="1.65"/><circle cx="677.7" cy="395.7" r="1.65"/><circle cx="683.3" cy="396.3" r="1.65"/><circle cx="690.5" cy="396.3" r="1.65"/><circle cx="698.8" cy="395.3" r="1.65"/><circle cx="676.9" cy="399.4" r="1.65"/><circle cx="681.1" cy="399.2" r="1.65"/><circle cx="684.0" cy="399.9" r="1.65"/><circle cx="688.2" cy="398.6" r="1.65"/><circle cx="693.5" cy="397.9" r="1.65"/><circle cx="702.0" cy="397.9" r="1.65"/><circle cx="705.3" cy="396.9" r="1.65"/><circle cx="708.2" cy="397.4" r="1.65"/><circle cx="711.4" cy="399.2" r="1.65"/><circle cx="680.4" cy="402.8" r="1.65"/><circle cx="684.0" cy="404.1" r="1.65"/><circle cx="687.6" cy="401.9" r="1.65"/><circle cx="690.9" cy="400.4" r="1.65"/><circle cx="693.5" cy="402.4" r="1.65"/><circle cx="698.1" cy="400.6" r="1.65"/><circle cx="701.3" cy="401.9" r="1.65"/><circle cx="704.5" cy="400.9" r="1.65"/><circle cx="708.2" cy="401.4" r="1.65"/><circle cx="690.5" cy="404.8" r="1.65"/><circle cx="688.5" cy="407.8" r="1.65"/><circle cx="697.8" cy="407.5" r="1.65"/><circle cx="701.7" cy="407.3" r="1.65"/><circle cx="738.3" cy="365.3" r="1.65"/><circle cx="742.5" cy="366.4" r="1.65"/><circle cx="736.2" cy="368.4" r="1.65"/><circle cx="740.3" cy="370.2" r="1.65"/><circle cx="719.7" cy="371.3" r="1.65"/><circle cx="716.1" cy="373.3" r="1.65"/><circle cx="722.6" cy="373.1" r="1.65"/><circle cx="727.5" cy="373.3" r="1.65"/><circle cx="730.6" cy="375.1" r="1.65"/><circle cx="712.9" cy="374.6" r="1.65"/><circle cx="719.1" cy="375.2" r="1.65"/><circle cx="713.5" cy="377.5" r="1.65"/><circle cx="716.9" cy="377.3" r="1.65"/><circle cx="728.2" cy="377.3" r="1.65"/><circle cx="730.9" cy="379.5" r="1.65"/><circle cx="719.3" cy="379.7" r="1.65"/><circle cx="724.1" cy="379.0" r="1.65"/><circle cx="712.3" cy="381.3" r="1.65"/><circle cx="715.5" cy="382.3" r="1.65"/><circle cx="719.1" cy="382.3" r="1.65"/><circle cx="727.5" cy="381.4" r="1.65"/><circle cx="725.0" cy="384.1" r="1.65"/><circle cx="721.7" cy="385.5" r="1.65"/><circle cx="728.2" cy="386.1" r="1.65"/><circle cx="714.6" cy="386.4" r="1.65"/><circle cx="717.9" cy="388.2" r="1.65"/><circle cx="721.7" cy="388.3" r="1.65"/><circle cx="725.5" cy="388.3" r="1.65"/><circle cx="728.5" cy="390.6" r="1.65"/><circle cx="715.1" cy="390.6" r="1.65"/><circle cx="721.1" cy="392.9" r="1.65"/><circle cx="725.0" cy="392.6" r="1.65"/><circle cx="714.6" cy="394.1" r="1.65"/><circle cx="717.7" cy="395.9" r="1.65"/><circle cx="722.3" cy="396.8" r="1.65"/><circle cx="715.3" cy="398.3" r="1.65"/><circle cx="717.9" cy="400.3" r="1.65"/><circle cx="714.6" cy="402.3" r="1.65"/></g>
<g font-size="12.1">
<text x="759.2" y="334.2" fill="#4a70c0" textLength="56.5" lengthAdjust="spacingAndGlyphs">Cell type 1</text>
<text x="759.2" y="355.1" fill="#1a9a8a" textLength="57.8" lengthAdjust="spacingAndGlyphs">Cell type 2</text>
<text x="759.2" y="375.5" fill="#8a60c0" textLength="58" lengthAdjust="spacingAndGlyphs">Cell type 3</text>
<text x="759.2" y="396.4" fill="#a87a3a" textLength="59.5" lengthAdjust="spacingAndGlyphs">Cell type N</text>
</g>
<circle cx="579.7" cy="471.1" r="10.9" fill="none" stroke="#111" stroke-width="1.8"/>
<text x="579.7" y="475.1" font-size="11" font-weight="bold" text-anchor="middle" fill="#111">6</text>
<text x="596.2" y="475.8" font-size="15" fill="#333" textLength="222.5" lengthAdjust="spacingAndGlyphs">Clustering &amp; cell type identification</text>
</svg>
</body></html>
